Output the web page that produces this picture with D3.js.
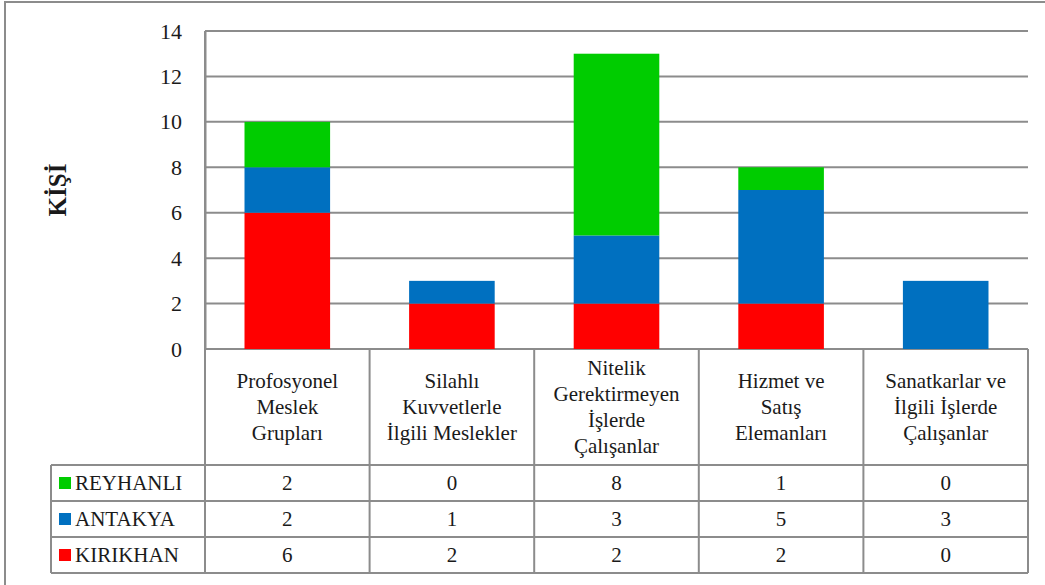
<!DOCTYPE html>
<html>
<head>
<meta charset="utf-8">
<script src="https://cdn.jsdelivr.net/npm/d3@7"></script>
<style>
  body { margin: 0; background: #fff; }
</style>
</head>
<body>
<div id="chart"></div>
<script>
// Chart data
var categories = [
    ['Profosyonel', 'Meslek', 'Grupları'],
    ['Silahlı', 'Kuvvetlerle', 'İlgili Meslekler'],
    ['Nitelik', 'Gerektirmeyen', 'İşlerde', 'Çalışanlar'],
    ['Hizmet ve', 'Satış', 'Elemanları'],
    ['Sanatkarlar ve', 'İlgili İşlerde', 'Çalışanlar']
];
var seriesNames = ['KIRIKHAN', 'ANTAKYA', 'REYHANLI'];
var kirikhan = [6, 2, 2, 2, 0];
var antakya = [2, 1, 3, 5, 3];
var reyhanli = [2, 0, 8, 1, 0];
var seriesColors = ['#ff0000', '#0070c0', '#00cc00'];
var yTicks = [0, 2, 4, 6, 8, 10, 12, 14];

var FONT = '"Liberation Serif", "Times New Roman", Tinos, "DejaVu Serif", "Noto Serif", FreeSerif, serif';

var W = 1045, H = 585;
var plot = {left: 205, right: 1028, top: 31, bottom: 349};
var headerBottom = 465, rowH = 36, legendLeft = 51;

var svg = d3.select('#chart').append('svg')
    .attr('width', W)
    .attr('height', H)
    .style('font-family', FONT);

// outer border
svg.append('rect')
    .attr('x', 5).attr('y', 2)
    .attr('width', W + 10).attr('height', H + 10)
    .attr('fill', 'none')
    .attr('stroke', '#8c8c8c')
    .attr('stroke-width', 2);

var x = d3.scaleBand()
    .domain(d3.range(categories.length))
    .range([plot.left, plot.right])
    .paddingInner(0.48)
    .paddingOuter(0.24);

var xCell = d3.scaleBand()
    .domain(d3.range(categories.length))
    .range([plot.left, plot.right]);

var y = d3.scaleLinear()
    .domain([0, 14])
    .range([plot.bottom, plot.top]);

// gridlines
svg.append('g')
    .selectAll('line')
    .data(yTicks)
    .enter().append('line')
        .attr('x1', plot.left).attr('x2', plot.right)
        .attr('y1', function(d){ return y(d); })
        .attr('y2', function(d){ return y(d); })
        .attr('stroke', '#8c8c8c')
        .attr('stroke-width', 2);

// y axis
var yAxisCall = d3.axisLeft(y).tickValues(yTicks).tickSize(0).tickPadding(23);
var yAxis = svg.append('g')
    .attr('transform', 'translate(' + plot.left + ', 0)')
    .call(yAxisCall)
    .attr('font-family', null);
yAxis.select('.domain').attr('stroke', '#8c8c8c').attr('stroke-width', 2);
yAxis.selectAll('text')
    .style('font-family', FONT)
    .style('font-size', '22px')
    .attr('fill', '#1a1a1a');

// y label
svg.append('text')
    .attr('transform', 'translate(66, ' + ((plot.top + plot.bottom) / 2) + ') rotate(-90)')
    .attr('text-anchor', 'middle')
    .style('font-family', FONT)
    .style('font-size', '25px')
    .style('font-weight', 'bold')
    .attr('fill', '#1a1a1a')
    .text('KİŞİ');

// stacked bars
var rows = categories.map(function(c, i){
    return {KIRIKHAN: kirikhan[i], ANTAKYA: antakya[i], REYHANLI: reyhanli[i], idx: i};
});
var stack = d3.stack().keys(seriesNames)(rows);

svg.append('g').selectAll('g')
    .data(stack)
    .enter().append('g')
        .attr('fill', function(d, i){ return seriesColors[i]; })
    .selectAll('rect')
    .data(function(d){ return d; })
    .enter().append('rect')
        .attr('x', function(d){ return x(d.data.idx); })
        .attr('width', x.bandwidth())
        .attr('y', function(d){ return y(d[1]); })
        .attr('height', function(d){ return y(d[0]) - y(d[1]); });

// data table lines
var table = svg.append('g').attr('stroke', '#8c8c8c').attr('stroke-width', 2);
var tableBottom = headerBottom + rowH * 3;
var hLines = d3.range(4).map(function(k){ return headerBottom + rowH * k; });
table.selectAll('line.h')
    .data(hLines)
    .enter().append('line')
        .attr('x1', legendLeft)
        .attr('x2', plot.right)
        .attr('y1', function(d){ return d; })
        .attr('y2', function(d){ return d; });
var vLines = d3.range(categories.length + 1).map(function(i){
    return i < categories.length ? xCell(i) : plot.right;
});
table.selectAll('line.v')
    .data(vLines)
    .enter().append('line')
        .attr('x1', function(d){ return d; })
        .attr('x2', function(d){ return d; })
        .attr('y1', function(d, i){ return (i === 0) ? plot.top : plot.bottom; })
        .attr('y2', tableBottom);
table.append('line')
    .attr('x1', legendLeft).attr('x2', legendLeft)
    .attr('y1', headerBottom).attr('y2', tableBottom);

// category header text
var header = svg.append('g');
categories.forEach(function(lines, i){
    var cx = xCell(i) + xCell.bandwidth() / 2;
    var lineH = 26;
    var startY = (plot.bottom + headerBottom) / 2 - (lines.length - 1) * lineH / 2 + 7;
    header.append('text')
        .attr('text-anchor', 'middle')
        .attr('fill', '#1a1a1a')
        .style('font-family', FONT)
        .style('font-size', '21px')
        .selectAll('tspan')
        .data(lines)
        .enter().append('tspan')
            .attr('x', cx)
            .attr('y', function(d, j){ return startY + j * lineH; })
            .text(function(d){ return d; });
});

// table rows: top to bottom REYHANLI, ANTAKYA, KIRIKHAN
var tableRows = [
    {name: 'REYHANLI', values: reyhanli, color: seriesColors[2]},
    {name: 'ANTAKYA', values: antakya, color: seriesColors[1]},
    {name: 'KIRIKHAN', values: kirikhan, color: seriesColors[0]}
];
tableRows.forEach(function(r, k){
    var cy = headerBottom + rowH * k + rowH / 2;
    svg.append('rect')
        .attr('x', legendLeft + 8).attr('y', cy - 6)
        .attr('width', 12).attr('height', 12)
        .attr('fill', r.color);
    svg.append('text')
        .attr('x', legendLeft + 24).attr('y', cy + 7)
        .attr('fill', '#1a1a1a')
        .style('font-family', FONT)
        .style('font-size', '21px')
        .text(r.name);
    r.values.forEach(function(v, i){
        svg.append('text')
            .attr('x', xCell(i) + xCell.bandwidth() / 2)
            .attr('y', cy + 7)
            .attr('text-anchor', 'middle')
            .attr('fill', '#1a1a1a')
            .style('font-family', FONT)
            .style('font-size', '21px')
            .text(v);
    });
});
</script>
</body>
</html>
